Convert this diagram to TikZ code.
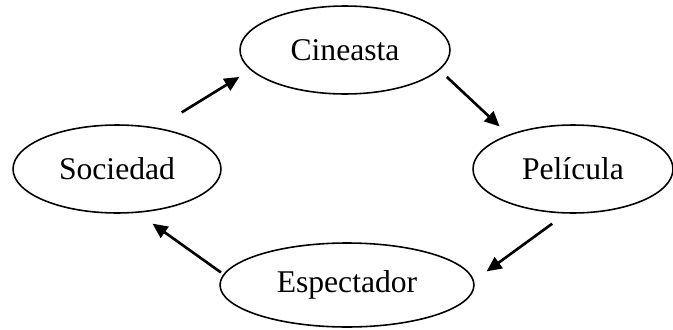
\documentclass[tikz,border=0pt]{standalone}
\usepackage{fontspec}
\setmainfont{Liberation Serif}
\usetikzlibrary{shapes,arrows.meta,positioning,calc}

\tikzset{
  stage/.style={ellipse,draw,line width=0.9pt,inner sep=0pt,
    minimum height=1.76cm,font=\fontsize{18}{22}\selectfont},
  flow/.style={-{Triangle[length=0.3cm,width=0.27cm]},line width=1.5pt}
}

\begin{document}
\begin{tikzpicture}[x=0.02cm,y=0.02cm]
  \useasboundingbox (0,0) rectangle (673,329);

  \node[stage,minimum width=4.2cm] (cine) at (345,279) {Cineasta};
  \node[stage,minimum width=4.16cm] (soc) at (117,160) {Sociedad};
  \node[stage,minimum width=4cm] (peli) at (573,160) {Película};
  \node[stage,minimum width=5.08cm,minimum height=1.68cm] (espec) at (347,44) {Espectador};

  \draw[flow,shorten <=0.58cm,shorten >=0.26cm] (soc.46) -- (cine.192);
  \draw[flow,shorten <=0.2cm,shorten >=0.24cm] (cine.-12) -- (peli.152);
  \draw[flow,shorten <=0.34cm,shorten >=0.31cm] (peli.-99) -- (espec.2);
  \draw[flow,shorten <=0.06cm,shorten >=0.37cm] (espec.175) -- (soc.-65);

\end{tikzpicture}
\end{document}
